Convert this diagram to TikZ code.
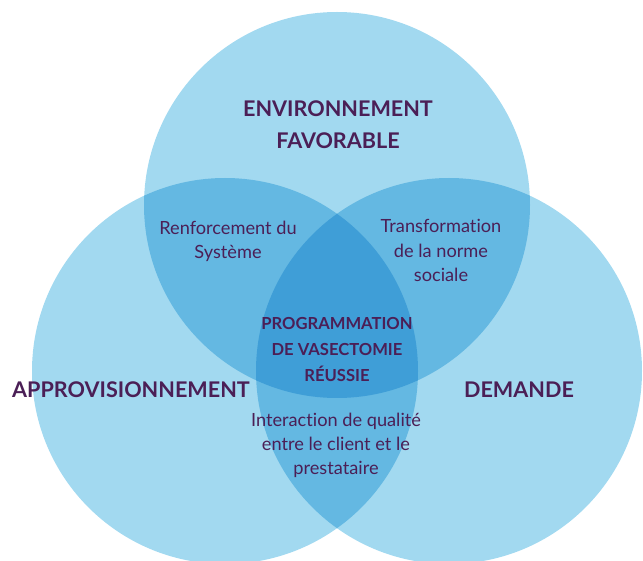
\documentclass[tikz,border=0pt]{standalone}
\usepackage{fontspec}
\setmainfont{Lato}[Ligatures=NoCommon]
\usepackage{xcolor}

\definecolor{circlight}{HTML}{A2D9F0}
\definecolor{circmid}{HTML}{64B8E2}
\definecolor{circdark}{HTML}{3F9ED7}
\definecolor{textplum}{HTML}{4B1F56}

\tikzset{
  pillar/.style={text=textplum, font=\fontsize{21.6}{32}\selectfont\bfseries, align=center, anchor=base, inner sep=0pt},
  overlap/.style={text=textplum, font=\fontsize{18.2}{24.5}\selectfont, align=center, anchor=base, inner sep=0pt},
  core/.style={text=textplum, font=\fontsize{16.6}{26}\selectfont\bfseries, align=center, anchor=base, inner sep=0pt}
}

\begin{document}
\begin{tikzpicture}[x=1pt,y=-1pt]
    \useasboundingbox (0,0) rectangle (643,561);
    \clip (0,0) rectangle (643,561);

    % Circle centres
    \coordinate (env) at (337,205);
    \coordinate (appro) at (225,371);
    \coordinate (dem) at (449,371);

    % Circles
    \fill [circlight] (env) circle [radius=193];
    \fill [circlight] (appro) circle [radius=193];
    \fill [circlight] (dem) circle [radius=193];

    % Two-way overlaps
    \begin{scope}
        \clip (env) circle [radius=193];
        \fill [circmid] (appro) circle [radius=193];
        \fill [circmid] (dem) circle [radius=193];
    \end{scope}
    \begin{scope}
        \clip (appro) circle [radius=193];
        \fill [circmid] (dem) circle [radius=193];
    \end{scope}

    % Centre
    \begin{scope}
        \clip (env) circle [radius=193];
        \clip (appro) circle [radius=193];
        \fill [circdark] (dem) circle [radius=193];
    \end{scope}

    % Labels (anchored on the baseline of the last line)
    \node [pillar] (envlabel) at (338,149) {ENVIRONNEMENT\\FAVORABLE};
    \node [pillar] (approlabel) at (131,398) {APPROVISIONNEMENT};
    \node [pillar] (demlabel) at (519,398) {DEMANDE};

    \node [overlap] (renfo) at (228,259) {Renforcement du\\Système};
    \node [overlap] (transfo) at (441,282) {Transformation\\de la norme\\sociale};
    \node [overlap] (inter) at (336,475) {Interaction de qualité\\entre le client et le\\prestataire};

    \node [core] (prog) at (337,382) {PROGRAMMATION\\DE VASECTOMIE\\RÉUSSIE};
\end{tikzpicture}
\end{document}
